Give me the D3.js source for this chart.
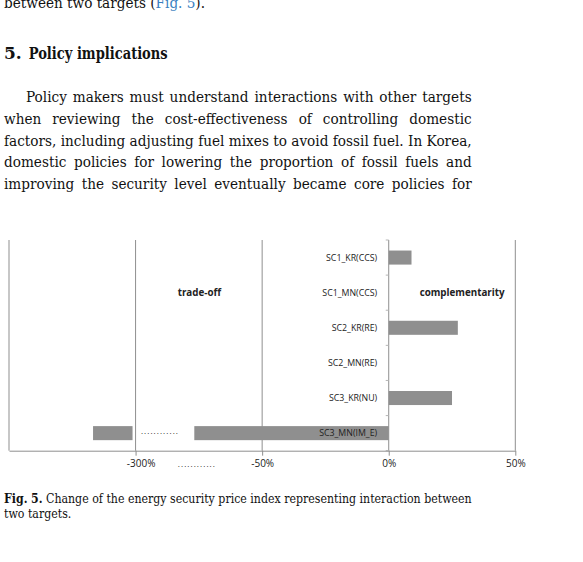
<!DOCTYPE html>
<html>
<head>
<meta charset="utf-8">
<script src="https://cdn.jsdelivr.net/npm/d3@7"></script>
<style>
  body { margin: 0; background: #fff; }
  svg { display: block; }
</style>
</head>
<body>
<div id="page"></div>
<script>
// chart values
const categories = ["SC1_KR(CCS)", "SC1_MN(CCS)", "SC2_KR(RE)", "SC2_MN(RE)", "SC3_KR(NU)", "SC3_MN(IM_E)"];
const values = [9, 0, 27.3, 0, 25, -384];
const breakPoints = [-550, -300, -50, 0, 50];   // broken axis, equal spacing
const tickValues = [-300, -50, 0, 50];
const tickLabels = ["-300%", "-50%", "0%", "50%"];
const barBreak = [-306, -184];                   // part of the long bar left out
const annotations = ["trade-off", "complementarity"];
const annotationX = [-174, 29];

const width = 583, height = 562;
const blue = "#3a7fc0";

const svg = d3.select("#page").append("svg")
    .attr("width", width)
    .attr("height", height);

// ---------- text blocks ----------
function runsOf(w) { return typeof w === "string" ? [{ t: w }] : w; }

function measure(parent, runs) {
    const t = parent.append("text");
    runs.forEach(r => t.append("tspan").text(r.t).attr("font-weight", r.b ? "bold" : null));
    const w = t.node().getComputedTextLength();
    t.remove();
    return w;
}

// full lines are spread from x0 to x1 (justified), with one horizontal squeeze per block
function drawBlock(lines, opt) {
    const g = svg.append("g")
        .attr("font-family", opt.family)
        .attr("font-size", opt.size)
        .attr("fill", "#111");
    const spaceW = measure(g, [{ t: "a a" }]) - measure(g, [{ t: "aa" }]);
    const info = lines.map(l => {
        const ws = l.words.map(w => measure(g, runsOf(w)));
        const sum = d3.sum(ws);
        return { ws, sum, natural: sum + spaceW * (ws.length - 1), avail: l.x1 - l.x0 };
    });
    const full = info.filter((d, i) => lines[i].full);
    const s = opt.squeeze || Math.min(1, full.length ? d3.min(full, d => d.avail / d.natural) : 1);

    lines.forEach((l, i) => {
        const d = info[i];
        const row = g.append("g")
            .attr("transform", `translate(${l.x0},${opt.y0 + i * opt.lh}) scale(${s},1)`);
        let gap = spaceW;
        if (l.full && d.ws.length > 1) gap = (d.avail / s - d.sum) / (d.ws.length - 1);
        let x = 0;
        l.words.forEach((w, j) => {
            const t = row.append("text").attr("x", x);
            runsOf(w).forEach(r => t.append("tspan").text(r.t)
                .attr("font-weight", r.b ? "bold" : null)
                .attr("fill", r.c || null));
            x += d.ws[j] + gap;
        });
    });
    return s;
}

const serif = "'DejaVu Serif', 'Liberation Serif', serif";

// body paragraph
const para = [
    "Policy makers must understand interactions with other targets",
    "when reviewing the cost-effectiveness of controlling domestic",
    "factors, including adjusting fuel mixes to avoid fossil fuel. In Korea,",
    "domestic policies for lowering the proportion of fossil fuels and",
    "improving the security level eventually became core policies for"
];
const bodySqueeze = drawBlock(para.map((l, i) => ({ words: l.split(" "), x0: i === 0 ? 26 : 4, x1: 471.7, full: true })),
    { family: serif, size: 15, y0: 102.3, lh: 21.67 });

// line cut off at the top of the page
drawBlock([
    { words: ["between", "two", "targets", [{ t: "(" }, { t: "Fig.", c: blue }],
              [{ t: "5", c: blue }, { t: ")." }]], x0: 4, x1: 205, full: true }
], { family: serif, size: 15, y0: 7.5, lh: 0, squeeze: bodySqueeze });

// section heading
svg.append("text")
    .attr("x", 4).attr("y", 59.3)
    .attr("font-family", serif).attr("font-size", 17).attr("font-weight", "bold")
    .attr("fill", "#111")
    .text("5.");
svg.append("text")
    .attr("x", 28.7).attr("y", 59.3)
    .attr("font-family", serif).attr("font-size", 17).attr("font-weight", "bold")
    .attr("fill", "#111")
    .attr("textLength", 139).attr("lengthAdjust", "spacingAndGlyphs")
    .text("Policy implications");

// caption
const capLine1 = "Change of the energy security price index representing interaction between".split(" ");
drawBlock([
    { words: [[{ t: "Fig.", b: true }], [{ t: "5.", b: true }]].concat(capLine1), x0: 4, x1: 471.7, full: true },
    { words: ["two", "targets."], x0: 4, x1: 67.5 }
], { family: serif, size: 12.5, y0: 502.5, lh: 15.8 });

// ---------- chart ----------
const plot = { left: 9, right: 515.3, top: 240, bottom: 450.7 };
const gridColor = "#8f8f8f";
const sans = "'Open Sans', 'Liberation Sans', sans-serif";

const x = d3.scaleLinear()
    .domain(breakPoints)
    .range(breakPoints.map((d, i) => plot.left + i * (plot.right - plot.left) / (breakPoints.length - 1)));

const y = d3.scaleBand()
    .domain(categories)
    .range([plot.top, plot.bottom])
    .paddingInner(0.6)
    .paddingOuter(0.3);

const chart = svg.append("g");

// vertical gridlines
chart.selectAll(".grid")
    .data(breakPoints.filter(d => d !== 0))
    .join("line")
    .attr("class", "grid")
    .attr("x1", d => x(d)).attr("x2", d => x(d))
    .attr("y1", plot.top).attr("y2", plot.bottom)
    .attr("stroke", gridColor)
    .attr("stroke-width", 1);

// bars, the long one drawn in two pieces around the break
const barData = categories.map((c, i) => ({ c, v: values[i] }));
const pieces = [];
barData.forEach(d => {
    if (d.v === 0) return;
    if (d.v < barBreak[0]) {
        pieces.push({ c: d.c, a: d.v, b: barBreak[0] });
        pieces.push({ c: d.c, a: barBreak[1], b: 0 });
    } else {
        pieces.push({ c: d.c, a: Math.min(d.v, 0), b: Math.max(d.v, 0) });
    }
});

chart.selectAll(".bar")
    .data(pieces)
    .join("rect")
    .attr("class", "bar")
    .attr("x", d => x(d.a))
    .attr("width", d => x(d.b) - x(d.a))
    .attr("y", d => y(d.c))
    .attr("height", y.bandwidth())
    .attr("fill", "#8f8f8f");

// dotted filler inside the bar gap
const longBar = barData.find(d => d.v < barBreak[0]);
chart.append("text")
    .attr("x", x((barBreak[0] + barBreak[1]) / 2) - 4)
    .attr("y", y(longBar.c) + y.bandwidth() / 2)
    .attr("dy", "0.1em")
    .attr("text-anchor", "middle")
    .attr("font-family", sans).attr("font-size", 8).attr("fill", "#222")
    .attr("textLength", 37).attr("lengthAdjust", "spacing")
    .text("............");

// category axis at zero
chart.append("line")
    .attr("x1", x(0)).attr("x2", x(0))
    .attr("y1", plot.top).attr("y2", plot.bottom)
    .attr("stroke", gridColor);

chart.selectAll(".ytick")
    .data(d3.range(categories.length + 1))
    .join("line")
    .attr("class", "ytick")
    .attr("x1", x(0) - 3).attr("x2", x(0))
    .attr("y1", i => plot.top + i * (plot.bottom - plot.top) / categories.length)
    .attr("y2", i => plot.top + i * (plot.bottom - plot.top) / categories.length)
    .attr("stroke", "#b5b5b5");

chart.selectAll(".ylabel")
    .data(categories)
    .join("text")
    .attr("class", "ylabel")
    .attr("x", x(0) - 11.5)
    .attr("y", d => y(d) + y.bandwidth() / 2)
    .attr("dy", "0.35em")
    .attr("text-anchor", "end")
    .attr("font-family", sans).attr("font-size", 8.8).attr("fill", "#222")
    .text(d => d);

// value axis
const xAxis = d3.axisBottom(x)
    .tickValues(tickValues)
    .tickFormat((d, i) => tickLabels[i])
    .tickSize(5)
    .tickSizeOuter(0)
    .tickPadding(4.5);

const axisG = chart.append("g")
    .attr("transform", `translate(0,${plot.bottom})`)
    .call(xAxis);
axisG.select(".domain").attr("stroke", gridColor);
axisG.selectAll(".tick line").attr("stroke", gridColor);
axisG.selectAll(".tick text")
    .attr("font-family", sans).attr("font-size", 10).attr("fill", "#222")
    .attr("dx", d => d === tickValues[0] ? 5 : 0);

// dotted filler between -300% and -50%
chart.append("text")
    .attr("x", x(-180))
    .attr("y", plot.bottom + 16.5)
    .attr("text-anchor", "middle")
    .attr("font-family", sans).attr("font-size", 8).attr("fill", "#222")
    .attr("textLength", 37).attr("lengthAdjust", "spacing")
    .text("............");

// region annotations
chart.selectAll(".note")
    .data(annotations)
    .join("text")
    .attr("class", "note")
    .attr("x", (d, i) => x(annotationX[i]))
    .attr("y", y(categories[1]) + y.bandwidth() / 2)
    .attr("dy", "0.35em")
    .attr("text-anchor", "middle")
    .attr("font-family", sans).attr("font-size", 9.8).attr("font-weight", "bold").attr("fill", "#222")
    .text(d => d);
</script>
</body>
</html>
